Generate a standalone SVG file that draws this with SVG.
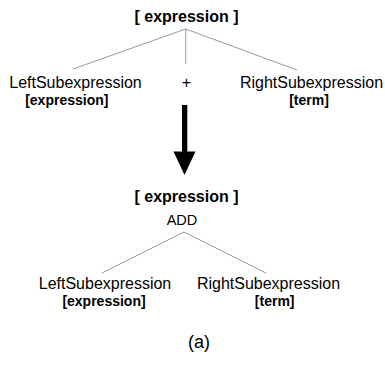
<svg xmlns="http://www.w3.org/2000/svg" width="385" height="371" viewBox="0 0 385 371">
<style>
text{font-family:"Liberation Sans",Arial,sans-serif;fill:#000;text-anchor:middle}
.t{font-size:16px;font-weight:bold}
.n{font-size:16px}
.b{font-size:14px;font-weight:bold}
.e{stroke:#9a9a9a;stroke-width:1;fill:none}
</style>
<rect width="385" height="371" fill="#fff"/>
<g id="connectors">
<line class="e" x1="185.7" y1="29" x2="73" y2="69"/>
<line class="e" x1="185.7" y1="29" x2="185.7" y2="64"/>
<line class="e" x1="185.7" y1="29" x2="297" y2="70"/>
<line class="e" x1="184" y1="232" x2="102" y2="273"/>
<line class="e" x1="184" y1="232" x2="266" y2="273"/>
<g id="transform-arrow">
<rect x="182" y="105" width="5.3" height="48" fill="#000"/>
<polygon points="173.5,151.5 195.5,151.5 184.5,175" fill="#000"/>
</g>
</g>
<g id="top-expression"><text class="t" x="186.5" y="22">[ expression ]</text></g>
<g id="top-left"><text class="n" x="75.5" y="88">LeftSubexpression</text><text class="b" x="66.8" y="105">[expression]</text></g>
<g id="top-plus"><text class="n" x="186.5" y="88">+</text></g>
<g id="top-right"><text class="n" x="311.5" y="88">RightSubexpression</text><text class="b" x="309" y="105">[term]</text></g>
<g id="bottom-expression"><text class="t" x="186.5" y="202">[ expression ]</text><text x="182" y="225" font-size="14.5">ADD</text></g>
<g id="bottom-left"><text class="n" x="105" y="289">LeftSubexpression</text><text class="b" x="104" y="306">[expression]</text></g>
<g id="bottom-right"><text class="n" x="268.5" y="289">RightSubexpression</text><text class="b" x="274.7" y="306">[term]</text></g>
<g id="caption"><text x="199" y="348" font-size="18">(a)</text></g>
</svg>
